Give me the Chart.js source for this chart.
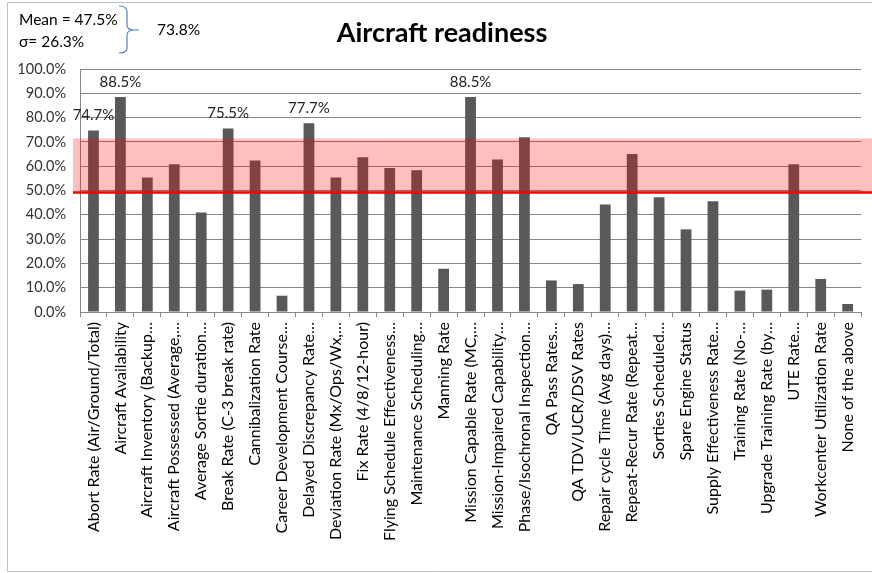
<!DOCTYPE html>
<html>
<head>
<meta charset="utf-8">
<script src="https://cdn.jsdelivr.net/npm/chart.js@4.4.1/dist/chart.umd.min.js"></script>
<style>
  html, body { margin: 0; padding: 0; background: #ffffff; }
  #wrap { position: relative; width: 872px; height: 573px; }
  canvas { display: block; }
</style>
</head>
<body>
<div id="wrap"><canvas id="chart" width="872" height="573"></canvas></div>
<script>
// Readiness metrics (share of responses, %)
const categories = [
  "Abort Rate (Air/Ground/Total)",
  "Aircraft Availability",
  "Aircraft Inventory (Backup…",
  "Aircraft Possessed (Average,…",
  "Average Sortie duration…",
  "Break Rate (C-3 break rate)",
  "Cannibalization Rate",
  "Career Development Course…",
  "Delayed Discrepancy Rate…",
  "Deviation Rate (Mx/Ops/Wx,…",
  "Fix Rate (4/8/12-hour)",
  "Flying Schedule Effectiveness…",
  "Maintenance Scheduling…",
  "Manning Rate",
  "Mission Capable Rate (MC,…",
  "Mission-Impaired Capability…",
  "Phase/Isochronal Inspection…",
  "QA Pass Rates…",
  "QA TDV/UCR/DSV Rates",
  "Repair cycle Time (Avg days)…",
  "Repeat-Recur Rate (Repeat…",
  "Sorties Scheduled…",
  "Spare Engine Status",
  "Supply Effectiveness Rate…",
  "Training Rate (No-…",
  "Upgrade Training Rate (by…",
  "UTE Rate…",
  "Workcenter Utilization Rate",
  "None of the above"
];

const readiness = [
  74.7, 88.5, 55.4, 60.8, 40.9, 75.5, 62.3, 6.7, 77.7, 55.4,
  63.7, 59.3, 58.3, 17.8, 88.5, 62.8, 71.9, 13.0, 11.5, 44.2,
  65.0, 47.2, 34.0, 45.6, 8.8, 9.2, 60.8, 13.6, 3.3
];

// Summary statistics shown in the corner note
const meanPct = 47.5;
const sigmaPct = 26.3;
const upperPct = 73.8;      // values above this get a value label

// Shaded band and its lower reference line
const bandLow = 49.2;
const bandHigh = 71.4;

const yTicks = [0, 10, 20, 30, 40, 50, 60, 70, 80, 90, 100];

const FONT = "Lato, 'Liberation Sans', sans-serif";

// Outer frame, title and corner note
const decorPlugin = {
  id: 'decor',
  beforeDraw(chart) {
    const ctx = chart.ctx;
    ctx.save();
    ctx.fillStyle = '#ffffff';
    ctx.fillRect(0, 0, chart.width, chart.height);
    ctx.strokeStyle = '#bfbfbf';
    ctx.lineWidth = 1;
    ctx.beginPath();
    ctx.moveTo(7.5, 2.5);
    ctx.lineTo(872, 2.5);
    ctx.moveTo(7.5, 2.5);
    ctx.lineTo(7.5, 571.5);
    ctx.lineTo(872, 571.5);
    ctx.stroke();
    ctx.restore();
  },
  afterDraw(chart) {
    const ctx = chart.ctx;
    ctx.save();
    ctx.fillStyle = '#000000';
    ctx.textBaseline = 'middle';
    ctx.textAlign = 'center';
    ctx.font = "bold 27px " + FONT;
    ctx.fillText('Aircraft readiness', 442, 33);

    ctx.textAlign = 'left';
    ctx.font = "15.5px " + FONT;
    ctx.fillText('Mean = ' + meanPct.toFixed(1) + '%', 19, 20);
    ctx.fillText('σ= ' + sigmaPct.toFixed(1) + '%', 19, 42);
    ctx.fillText(upperPct.toFixed(1) + '%', 157, 30);

    // curly brace
    ctx.strokeStyle = '#4f81bd';
    ctx.lineWidth = 1.2;
    ctx.beginPath();
    ctx.moveTo(119, 6);
    ctx.quadraticCurveTo(127, 6, 127, 12);
    ctx.lineTo(127, 25);
    ctx.quadraticCurveTo(127, 30, 134, 30);
    ctx.quadraticCurveTo(127, 30, 127, 35);
    ctx.lineTo(127, 48);
    ctx.quadraticCurveTo(127, 53, 119, 53);
    ctx.moveTo(134, 30);
    ctx.lineTo(139, 30);
    ctx.stroke();
    ctx.restore();
  }
};

// Shaded band, reference line and value labels over the bars
const overlayPlugin = {
  id: 'overlay',
  afterDatasetsDraw(chart) {
    const ctx = chart.ctx;
    const y = chart.scales.y;
    const area = chart.chartArea;
    const x0 = area.left - 7;
    const x1 = chart.width;
    const yTop = y.getPixelForValue(bandHigh);
    const yLow = y.getPixelForValue(bandLow);
    ctx.save();
    ctx.fillStyle = 'rgba(255, 0, 0, 0.25)';
    ctx.fillRect(x0, yTop, x1 - x0, yLow - yTop);
    ctx.strokeStyle = '#ff0000';
    ctx.lineWidth = 2.5;
    ctx.beginPath();
    ctx.moveTo(x0, yLow);
    ctx.lineTo(x1, yLow);
    ctx.stroke();

    const meta = chart.getDatasetMeta(0);
    ctx.fillStyle = '#222222';
    ctx.font = "15px " + FONT;
    ctx.textAlign = 'center';
    ctx.textBaseline = 'middle';
    readiness.forEach((v, i) => {
      if (v > upperPct) {
        const bar = meta.data[i];
        ctx.fillText(v.toFixed(1) + '%', bar.x, bar.y - 15);
      }
    });
    ctx.restore();
  }
};

new Chart(document.getElementById('chart'), {
  type: 'bar',
  data: {
    labels: categories,
    datasets: [{
      data: readiness,
      backgroundColor: '#595959',
      borderWidth: 0,
      barPercentage: 0.4,
      categoryPercentage: 1.0
    }]
  },
  options: {
    responsive: false,
    maintainAspectRatio: false,
    animation: false,
    layout: { padding: { left: 8, right: 9, top: 69, bottom: 0 } },
    plugins: {
      legend: { display: false },
      tooltip: { enabled: false },
      title: { display: false }
    },
    scales: {
      x: {
        grid: {
          offset: true,
          drawOnChartArea: false,
          drawTicks: true,
          tickLength: 5,
          color: '#868686'
        },
        border: { color: '#868686', width: 1 },
        ticks: {
          autoSkip: false,
          maxRotation: 90,
          minRotation: 90,
          padding: 5,
          color: '#000000',
          font: { family: FONT, size: 16 }
        },
        afterFit(scale) { scale.height = 261; }
      },
      y: {
        min: 0,
        max: 100,
        afterBuildTicks(scale) { scale.ticks = yTicks.map(v => ({ value: v })); },
        grid: { color: '#868686', drawTicks: false },
        border: { color: '#868686', width: 1 },
        ticks: {
          padding: 14,
          color: '#333333',
          font: { family: FONT, size: 14.5 },
          callback: v => Number(v).toFixed(1) + '%'
        },
        afterFit(scale) { scale.width = 72; }
      }
    }
  },
  plugins: [decorPlugin, overlayPlugin]
});
</script>
</body>
</html>
